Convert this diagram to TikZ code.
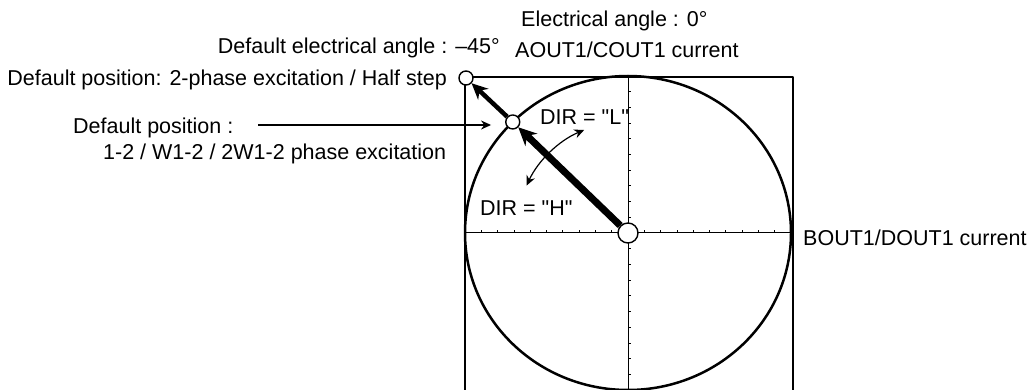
\documentclass[tikz,border=0pt]{standalone}
\usepackage{fontspec}
\setmainfont{Liberation Sans}[Ligatures=TeXOff]
\usetikzlibrary{arrows.meta}
\begin{document}
\begin{tikzpicture}[x=1pt, y=-1pt, font=\fontsize{21.5}{24}\selectfont, line join=round, >={Stealth[length=10pt,width=9pt]},
	lbl/.style={inner sep=0pt},
	dot/.style={circle, draw, fill=white, line width=1.4pt, inner sep=0pt, minimum size=14pt}]
	\def\cx{628}
	\def\cy{233}
	\def\rx{163}
	\def\ry{157}
	\def\dx{16.3}
	\def\dy{15.7}
	\useasboundingbox (0,0) rectangle (1028,390);
	% frame, axes and ticks
	\draw[line width=1.2pt] (465,395) -- (465,77) -- (793,77) -- (793,395);
	\draw[line width=1pt] (465,\cy) -- (793,\cy) (\cx,77) -- (\cx,395);
	\foreach \i in {-9,...,-1,1,2,...,9}{
		\draw[line width=0.8pt] ({\cx+\i*\dx},\cy) -- ++(0,-3);
		\draw[line width=0.8pt] (\cx,{\cy+\i*\dy}) -- ++(3,0);
	}
	\draw[line width=2.5pt] (\cx,\cy) ellipse ({\rx} and {\ry});
	% positions
	\node[dot, minimum size=20pt] (ctr) at (\cx,\cy) {};
	\node[dot] (mid) at ({\cx+\rx*cos(135)},{\cy-\ry*sin(135)}) {};
	\node[dot] (corner) at (466,78) {};
	\draw[line width=7pt, -{Stealth[length=18pt,width=17pt]}] (ctr) -- (mid);
	\draw[line width=4.5pt, -{Stealth[length=16pt,width=15pt]}] (mid) -- (corner);
	\draw[line width=1.2pt, <->] (\cx,\cy) ++(247:112) arc (247:205:112);
	% texts
	\node[lbl, anchor=base west] (elang) at (521,27) {Electrical angle : 0°};
	\node[lbl, anchor=base west] (acur) at (515,58) {AOUT1/COUT1 current};
	\node[lbl, anchor=base east] (defang) at (500,54) {Default electrical angle : –45°};
	\node[lbl, anchor=base east] (defpos) at (447,86) {Default position: 2-phase excitation / Half step};
	\node[lbl, anchor=base west] (defpos2) at (73,134) {Default position :};
	\node[lbl, anchor=base west] (phase) at (103,160) {1-2 / W1-2 / 2W1-2 phase excitation};
	\node[lbl, anchor=base west] (dirl) at (540,125) {DIR = "L"};
	\node[lbl, anchor=base west] (dirh) at (480,216) {DIR = "H"};
	\node[lbl, anchor=base west] (bcur) at (803,245) {BOUT1/DOUT1 current};
	\coordinate (ptail) at (258,125);
	\draw[line width=1.2pt, ->] (ptail) -- ([xshift=-14pt]mid.west |- ptail);
\end{tikzpicture}
\end{document}
